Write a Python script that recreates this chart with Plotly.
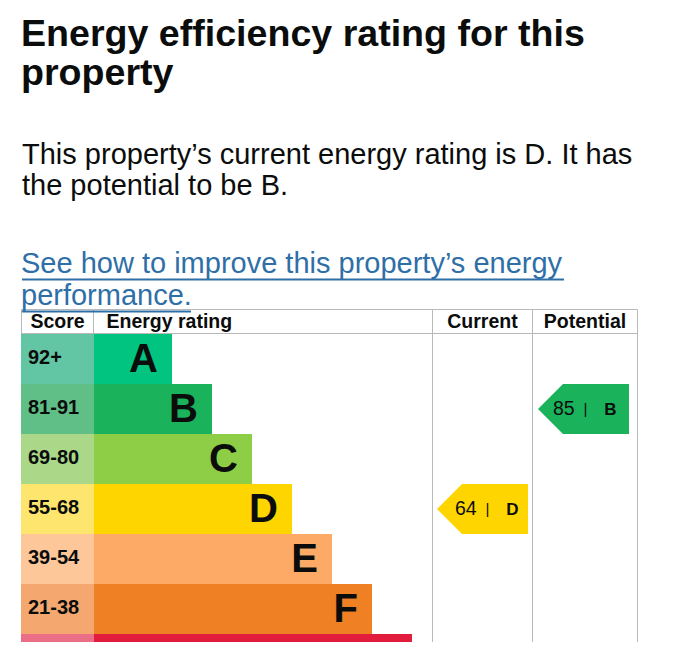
import plotly.graph_objects as go

# ---------------- data ----------------
bands = ["A", "B", "C", "D", "E", "F", "G"]
score_ranges = ["92+", "81-91", "69-80", "55-68", "39-54", "21-38", "1-20"]
band_min = [92, 81, 69, 55, 39, 21, 1]
band_colors = ["#00c47f", "#1ab25b", "#8dce46", "#ffd500", "#fcaa65", "#ef8023", "#e21c3d"]
score_colors = ["#62c5a3", "#60bf86", "#aad888", "#fee56e", "#fdc79a", "#f4a76e", "#ea6e86"]
header_labels = ["Score", "Energy rating", "Current", "Potential"]
rating_columns = ["Current", "Potential"]
rating_scores = [64, 85]

title_lines = ["Energy efficiency rating for this", "property"]
summary_lines = ["This property\u2019s current energy rating is D. It has", "the potential to be B."]
link_lines = ["See how to improve this property\u2019s energy", "performance."]

# ---------------- styling / layout constants (page pixels) ----------------
FONT = "Liberation Sans, Arial, Helvetica, sans-serif"
INK = "#0b0c0c"
LINK = "#2f6fa7"
GRID = "#b8b9ba"
OFF = 8                      # page body margin
W, H = 686, 638              # figure size
PLOT_TOP, PLOT_BOTTOM = 308, 642
HEADER_TOP = 309
HEADER_BOTTOM = 334
ROW_PX = 50

TABLE_L, SCORE_R, RATING_R, CURRENT_R, POTENTIAL_R = 21, 94, 432, 533, 637
col_bounds = {"Current": (RATING_R, CURRENT_R), "Potential": (CURRENT_R, POTENTIAL_R)}
text_dx = {"Current": 18, "Potential": 15}
BAR_MIN, BAR_STEP = 78, 40
ARROW_W, ARROW_NOTCH = 91, 25


def yu(py):
    """page pixel row -> y-axis units (one rating row = 1 unit)"""
    return -1 + (py - HEADER_TOP) / ROW_PX


def ppx(px):
    return (px - OFF) / W


def ppy(py):
    return (PLOT_BOTTOM - py) / (PLOT_BOTTOM - PLOT_TOP)


def band_index(score):
    for i, m in enumerate(band_min):
        if score >= m:
            return i
    return len(bands) - 1


rows = list(range(len(bands)))
bar_len = [BAR_MIN + BAR_STEP * i for i in rows]
# rows whose labels fall inside the visible area
vis = [i for i in rows if HEADER_BOTTOM + ROW_PX * (i + 0.5) < PLOT_BOTTOM - 12]

fig = go.Figure()

# score cells
fig.add_trace(go.Bar(
    y=rows, x=[SCORE_R - TABLE_L] * len(rows), base=TABLE_L, orientation="h", width=1,
    marker=dict(color=score_colors, line=dict(width=0)), hoverinfo="skip"))
# rating bars
fig.add_trace(go.Bar(
    y=rows, x=bar_len, base=SCORE_R, orientation="h", width=1,
    marker=dict(color=band_colors, line=dict(width=0)), hoverinfo="skip"))

# score labels
fig.add_trace(go.Scatter(
    x=[TABLE_L + 7] * len(vis), y=vis, mode="text", text=[score_ranges[i] for i in vis],
    textposition="middle right",
    textfont=dict(family=FONT, size=20, color=INK, weight="bold"), hoverinfo="skip"))
# band letters
fig.add_trace(go.Scatter(
    x=[SCORE_R + bar_len[i] - 14 for i in vis], y=[i + 0.06 for i in vis], mode="text",
    text=[bands[i] for i in vis], textposition="middle left",
    textfont=dict(family=FONT, size=40, color=INK, weight="bold"), hoverinfo="skip"))

# header labels
hdr_y = yu(323.1)
hdr_x = [(TABLE_L + SCORE_R) / 2, SCORE_R + 12.5,
         sum(col_bounds["Current"]) / 2, sum(col_bounds["Potential"]) / 2]
hdr_pos = ["middle center", "middle right", "middle center", "middle center"]
for lab, x, pos in zip(header_labels, hdr_x, hdr_pos):
    fig.add_trace(go.Scatter(
        x=[x], y=[hdr_y], mode="text", text=[lab], textposition=pos,
        textfont=dict(family=FONT, size=19.5, color=INK, weight="bold"), hoverinfo="skip"))

# current / potential arrows
for col, score in zip(rating_columns, rating_scores):
    bi = band_index(score)
    left = col_bounds[col][0] + 5
    right = left + ARROW_W
    c = bi
    fig.add_trace(go.Scatter(
        x=[left, left + ARROW_NOTCH, right, right, left + ARROW_NOTCH, left],
        y=[c, c - 0.5, c - 0.5, c + 0.5, c + 0.5, c],
        mode="lines", fill="toself", fillcolor=band_colors[bi],
        line=dict(width=0, color=band_colors[bi]), hoverinfo="skip"))
    tx = left + text_dx[col]
    ty = c + 0.03
    fig.add_trace(go.Scatter(
        x=[tx], y=[ty], mode="text", text=[str(score)], textposition="middle right",
        textfont=dict(family=FONT, size=19.5, color=INK), hoverinfo="skip"))
    fig.add_trace(go.Scatter(
        x=[tx + 32.5], y=[ty], mode="text", text=["|"], textposition="middle center",
        textfont=dict(family=FONT, size=15, color=INK), hoverinfo="skip"))
    fig.add_trace(go.Scatter(
        x=[tx + 63.5], y=[ty], mode="text", text=[bands[bi]], textposition="middle left",
        textfont=dict(family=FONT, size=17, color=INK, weight="bold"), hoverinfo="skip"))

# grid lines
y_top = yu(HEADER_TOP + 0.5)
y_hdr = yu(HEADER_BOTTOM - 0.5)
y_bot = yu(PLOT_BOTTOM + 5)
shapes = []
for yy in (y_top, y_hdr):
    shapes.append(dict(type="line", xref="x", yref="y", x0=TABLE_L, x1=POTENTIAL_R + 0.5,
                       y0=yy, y1=yy, line=dict(color=GRID, width=1)))
for xx in (TABLE_L + 0.5, SCORE_R - 0.5):
    shapes.append(dict(type="line", xref="x", yref="y", x0=xx, x1=xx, y0=y_top, y1=y_hdr,
                       line=dict(color=GRID, width=1)))
for xx in (RATING_R + 0.5, CURRENT_R - 0.5, POTENTIAL_R + 0.5):
    shapes.append(dict(type="line", xref="x", yref="y", x0=xx, x1=xx, y0=y_top, y1=y_bot,
                       line=dict(color=GRID, width=1)))

# text blocks above the chart
annotations = []


def add_text(txt, px, base_py, size, color, bold=False):
    center = base_py - 0.3465 * size
    annotations.append(dict(
        text=txt, xref="paper", yref="paper", x=ppx(px), y=ppy(center),
        xanchor="left", yanchor="middle", showarrow=False, borderpad=0, borderwidth=0,
        font=dict(family=FONT, size=size, color=color, weight="bold" if bold else "normal")))


add_text(title_lines[0], 20.5, 46, 37.6, INK, True)
add_text(title_lines[1], 20.5, 85, 37.6, INK, True)
add_text(summary_lines[0], 22, 164, 29, INK)
add_text(summary_lines[1], 22, 195, 29, INK)
add_text(link_lines[0], 21, 273, 29, LINK)
add_text(link_lines[1], 21, 305, 29, LINK)

# link underlines
for x1, py in ((564, 279.5), (191, 311.5)):
    shapes.append(dict(type="line", xref="paper", yref="paper", x0=ppx(22), x1=ppx(x1),
                       y0=ppy(py), y1=ppy(py), line=dict(color=LINK, width=2)))

fig.update_layout(
    width=W, height=H,
    margin=dict(l=0, r=0, t=PLOT_TOP - OFF, b=OFF + H - PLOT_BOTTOM, pad=0),
    paper_bgcolor="white", plot_bgcolor="white", showlegend=False, barmode="overlay",
    xaxis=dict(range=[OFF, OFF + W], visible=False, fixedrange=True),
    yaxis=dict(range=[yu(PLOT_BOTTOM), yu(PLOT_TOP)], visible=False, fixedrange=True),
    shapes=shapes, annotations=annotations, hovermode=False,
)

fig.write_html("out.html", config={"displayModeBar": False})
